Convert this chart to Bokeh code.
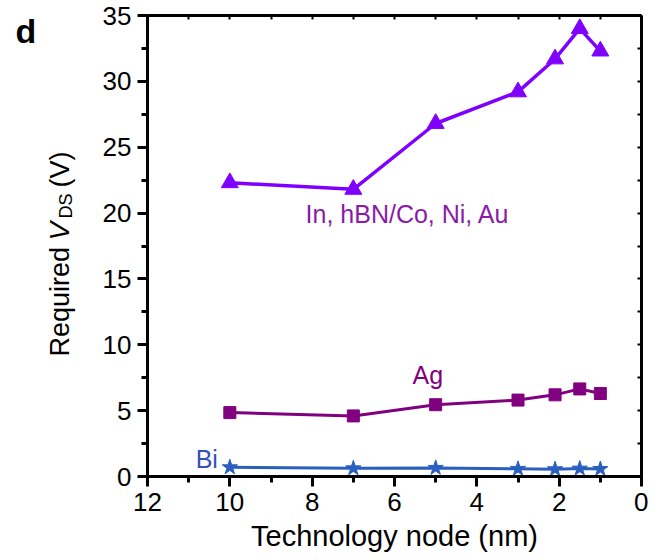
import math
from bokeh.plotting import figure
from bokeh.layouts import row
from bokeh.models import Range1d, LinearAxis, SingleIntervalTicker, FixedTicker, Label
from bokeh.embed import file_html
from bokeh.resources import INLINE

# ---- data ----
nodes = [10, 7, 5, 3, 2.1, 1.5, 1.0]
v_in = [22.3, 21.8, 26.8, 29.2, 31.7, 34.0, 32.3]
v_ag = [4.85, 4.6, 5.45, 5.8, 6.2, 6.65, 6.3]
v_bi = [0.7, 0.62, 0.65, 0.58, 0.55, 0.6, 0.57]
top_ticks = [0, 1, 2, 3, 4, 5, 6, 7, 8, 9, 10, 11, 12]
right_ticks = [0, 2.5, 5, 7.5, 10, 12.5, 15, 17.5, 20, 22.5, 25, 27.5, 30, 32.5, 35]

FONT = "Liberation Sans"
H = 556
LW = 85                     # width of the side strip holding the y title and panel letter
W = 648 - LW
L, R, T, B = 147 - LW, 7, 15, 80

# ---- side strip (coordinates = pixels, y downwards, frame aligned with main plot) ----
s = figure(width=LW, height=H, output_backend="svg", toolbar_location=None,
           x_range=Range1d(0, LW), y_range=Range1d(H - B, T),
           min_border_left=0, min_border_right=0,
           min_border_top=T, min_border_bottom=B)
s.axis.visible = False
s.grid.visible = False
s.outline_line_color = None
s.background_fill_color = "white"
s.border_fill_color = "white"

s.add_layout(Label(x=15, y=30, text="d", text_font=FONT, text_font_size="34px",
                   text_color="black", text_font_style="bold", text_baseline="alphabetic"))
ylab = [("Required", 356, 59, "27px", "normal"),
        ("V", 240, 59, "28px", "italic"),
        ("DS", 218, 65, "18px", "normal"),
        ("(V)", 187, 59, "27px", "normal")]
for txt, py, px, fs, st in ylab:
    s.add_layout(Label(x=px, y=py, text=txt, angle=math.pi / 2, text_font=FONT,
                       text_font_size=fs, text_font_style=st, text_color="black",
                       text_baseline="alphabetic", text_align="left"))

# ---- main plot ----
p = figure(width=W, height=H, output_backend="svg", toolbar_location=None,
           x_range=Range1d(12, 0), y_range=Range1d(0, 35),
           min_border_left=L, min_border_right=R, min_border_top=T, min_border_bottom=B)
p.grid.visible = False
p.outline_line_color = None
p.background_fill_color = "white"
p.border_fill_color = "white"

for ax in (p.xaxis[0], p.yaxis[0]):
    ax.axis_line_width = 3
    ax.axis_line_color = "black"
    ax.major_tick_line_width = 3
    ax.minor_tick_line_width = 3
    ax.major_tick_out = 10
    ax.major_tick_in = 0
    ax.minor_tick_out = 6
    ax.minor_tick_in = 0
    ax.major_label_text_font = FONT
    ax.major_label_text_font_size = "26px"
    ax.major_label_text_color = "black"

p.xaxis.ticker = SingleIntervalTicker(interval=2, num_minor_ticks=2)
p.yaxis.ticker = SingleIntervalTicker(interval=5, num_minor_ticks=2)
p.xaxis.major_label_standoff = 6
p.yaxis.major_label_standoff = 6
p.xaxis.axis_label = "Technology node (nm)"
p.xaxis.axis_label_text_font = FONT
p.xaxis.axis_label_text_font_size = "29px"
p.xaxis.axis_label_text_font_style = "normal"
p.xaxis.axis_label_text_color = "black"
p.xaxis.axis_label_standoff = 6

top = LinearAxis(ticker=FixedTicker(ticks=[], minor_ticks=top_ticks),
                 major_tick_in=0, major_tick_out=0, minor_tick_in=4, minor_tick_out=0,
                 minor_tick_line_width=2, axis_line_width=3)
right = LinearAxis(ticker=FixedTicker(ticks=[], minor_ticks=right_ticks),
                   major_tick_in=0, major_tick_out=0, minor_tick_in=4, minor_tick_out=0,
                   minor_tick_line_width=2, axis_line_width=3)
p.add_layout(top, "above")
p.add_layout(right, "right")

c_in, c_ag, c_bi = "#8000ff", "#800080", "#2a5fc0"
p.line(nodes, v_in, line_color=c_in, line_width=3.5)
p.scatter(nodes, v_in, marker="triangle", size=17, fill_color=c_in, line_color=c_in)
p.line(nodes, v_ag, line_color=c_ag, line_width=3)
p.scatter(nodes, v_ag, marker="square", size=12, fill_color=c_ag, line_color=c_ag)
p.line(nodes, v_bi, line_color=c_bi, line_width=3)
p.scatter(nodes, v_bi, marker="star", size=16, fill_color=c_bi, line_color=c_bi)

p.add_layout(Label(x=8.16, y=19.9, text="In, hBN/Co, Ni, Au", text_color="#8a1aa8",
                   text_font=FONT, text_font_size="25px", text_baseline="alphabetic"))
p.add_layout(Label(x=5.56, y=7.7, text="Ag", text_color="#800080",
                   text_font=FONT, text_font_size="25px", text_baseline="alphabetic"))
p.add_layout(Label(x=10.83, y=1.3, text="Bi", text_color="#3550bb",
                   text_font=FONT, text_font_size="25px", text_baseline="alphabetic"))

layout = row(s, p, spacing=0)
open("out.html", "w").write(file_html(layout, INLINE))
